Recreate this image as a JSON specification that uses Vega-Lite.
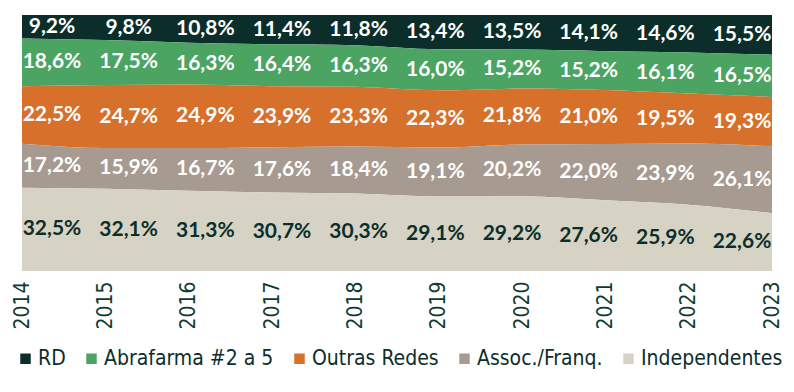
{
  "$schema": "https://vega.github.io/schema/vega-lite/v6.json",
  "width": 750,
  "height": 256,
  "autosize": {"type": "none"},
  "padding": {"left": 22, "top": 15, "right": 22, "bottom": 121},
  "config": {"view": {"stroke": null}, "font": "Lato"},
  "data": {
    "values": [
      {"year": 2014, "s": "RD", "v": 9.2},
      {"year": 2015, "s": "RD", "v": 9.8},
      {"year": 2016, "s": "RD", "v": 10.8},
      {"year": 2017, "s": "RD", "v": 11.4},
      {"year": 2018, "s": "RD", "v": 11.8},
      {"year": 2019, "s": "RD", "v": 13.4},
      {"year": 2020, "s": "RD", "v": 13.5},
      {"year": 2021, "s": "RD", "v": 14.1},
      {"year": 2022, "s": "RD", "v": 14.6},
      {"year": 2023, "s": "RD", "v": 15.5},
      {"year": 2014, "s": "Abrafarma #2 a 5", "v": 18.6},
      {"year": 2015, "s": "Abrafarma #2 a 5", "v": 17.5},
      {"year": 2016, "s": "Abrafarma #2 a 5", "v": 16.3},
      {"year": 2017, "s": "Abrafarma #2 a 5", "v": 16.4},
      {"year": 2018, "s": "Abrafarma #2 a 5", "v": 16.3},
      {"year": 2019, "s": "Abrafarma #2 a 5", "v": 16.0},
      {"year": 2020, "s": "Abrafarma #2 a 5", "v": 15.2},
      {"year": 2021, "s": "Abrafarma #2 a 5", "v": 15.2},
      {"year": 2022, "s": "Abrafarma #2 a 5", "v": 16.1},
      {"year": 2023, "s": "Abrafarma #2 a 5", "v": 16.5},
      {"year": 2014, "s": "Outras Redes", "v": 22.5},
      {"year": 2015, "s": "Outras Redes", "v": 24.7},
      {"year": 2016, "s": "Outras Redes", "v": 24.9},
      {"year": 2017, "s": "Outras Redes", "v": 23.9},
      {"year": 2018, "s": "Outras Redes", "v": 23.3},
      {"year": 2019, "s": "Outras Redes", "v": 22.3},
      {"year": 2020, "s": "Outras Redes", "v": 21.8},
      {"year": 2021, "s": "Outras Redes", "v": 21.0},
      {"year": 2022, "s": "Outras Redes", "v": 19.5},
      {"year": 2023, "s": "Outras Redes", "v": 19.3},
      {"year": 2014, "s": "Assoc./Franq.", "v": 17.2},
      {"year": 2015, "s": "Assoc./Franq.", "v": 15.9},
      {"year": 2016, "s": "Assoc./Franq.", "v": 16.7},
      {"year": 2017, "s": "Assoc./Franq.", "v": 17.6},
      {"year": 2018, "s": "Assoc./Franq.", "v": 18.4},
      {"year": 2019, "s": "Assoc./Franq.", "v": 19.1},
      {"year": 2020, "s": "Assoc./Franq.", "v": 20.2},
      {"year": 2021, "s": "Assoc./Franq.", "v": 22.0},
      {"year": 2022, "s": "Assoc./Franq.", "v": 23.9},
      {"year": 2023, "s": "Assoc./Franq.", "v": 26.1},
      {"year": 2014, "s": "Independentes", "v": 32.5},
      {"year": 2015, "s": "Independentes", "v": 32.1},
      {"year": 2016, "s": "Independentes", "v": 31.3},
      {"year": 2017, "s": "Independentes", "v": 30.7},
      {"year": 2018, "s": "Independentes", "v": 30.3},
      {"year": 2019, "s": "Independentes", "v": 29.1},
      {"year": 2020, "s": "Independentes", "v": 29.2},
      {"year": 2021, "s": "Independentes", "v": 27.6},
      {"year": 2022, "s": "Independentes", "v": 25.9},
      {"year": 2023, "s": "Independentes", "v": 22.6}
    ]
  },
  "transform": [
    {"calculate": "indexof(['Independentes','Assoc./Franq.','Outras Redes','Abrafarma #2 a 5','RD'], datum.s)", "as": "k"},
    {"stack": "v", "groupby": ["year"], "sort": [{"field": "k", "order": "ascending"}], "offset": "normalize", "as": ["y0", "y1"]},
    {"calculate": "(datum.y0 + datum.y1) / 2", "as": "ym"},
    {"calculate": "replace(format(datum.v, '.1f'), '.', ',') + '%'", "as": "lab"}
  ],
  "layer": [
    {
      "mark": {"type": "area", "interpolate": "monotone"},
      "encoding": {
        "x": {
          "field": "year", "type": "quantitative",
          "scale": {"domain": [2014, 2023], "nice": false, "zero": false},
          "axis": {
            "values": [2014, 2015, 2016, 2017, 2018, 2019, 2020, 2021, 2022, 2023],
            "format": "d", "labelAngle": -90, "labelAlign": "right", "labelBaseline": "middle",
            "labelFont": "DejaVu Sans Condensed", "labelFontSize": 21, "labelColor": "#0e3b30",
            "ticks": false, "domain": false, "grid": false, "title": null,
            "labelPadding": 10, "labelFlush": false, "labelOverlap": false
          }
        },
        "y": {"field": "y0", "type": "quantitative", "scale": {"domain": [0, 1], "nice": false}, "axis": null},
        "y2": {"field": "y1"},
        "color": {
          "field": "s", "type": "nominal",
          "scale": {
            "domain": ["RD", "Abrafarma #2 a 5", "Outras Redes", "Assoc./Franq.", "Independentes"],
            "range": ["#0c2e2b", "#4ba462", "#d6702b", "#a69a91", "#d6d3c4"]
          },
          "legend": {
            "orient": "none", "legendX": -7, "legendY": 333, "direction": "horizontal",
            "title": null, "symbolType": "square", "symbolSize": 110, "symbolStrokeWidth": 0,
            "symbolOpacity": 1, "labelLimit": 0,
            "labelFont": "DejaVu Sans Condensed", "labelFontSize": 21, "labelColor": "#0c2e2b",
            "columnPadding": 15, "labelOffset": 2, "padding": 0
          }
        }
      }
    },
    {
      "mark": {"type": "text", "font": "Lato", "fontWeight": "bold", "fontSize": 21, "baseline": "middle"},
      "encoding": {
        "x": {
          "field": "year", "type": "quantitative",
          "scale": {"domain": [2013.609, 2023.391], "nice": false, "zero": false},
          "axis": null
        },
        "y": {"field": "ym", "type": "quantitative", "scale": {"domain": [0, 1], "nice": false}, "axis": null},
        "text": {"field": "lab"},
        "color": {"condition": {"test": "datum.s === 'Independentes'", "value": "#0c2e2b"}, "value": "white"}
      }
    }
  ],
  "resolve": {"scale": {"x": "independent"}}
}
